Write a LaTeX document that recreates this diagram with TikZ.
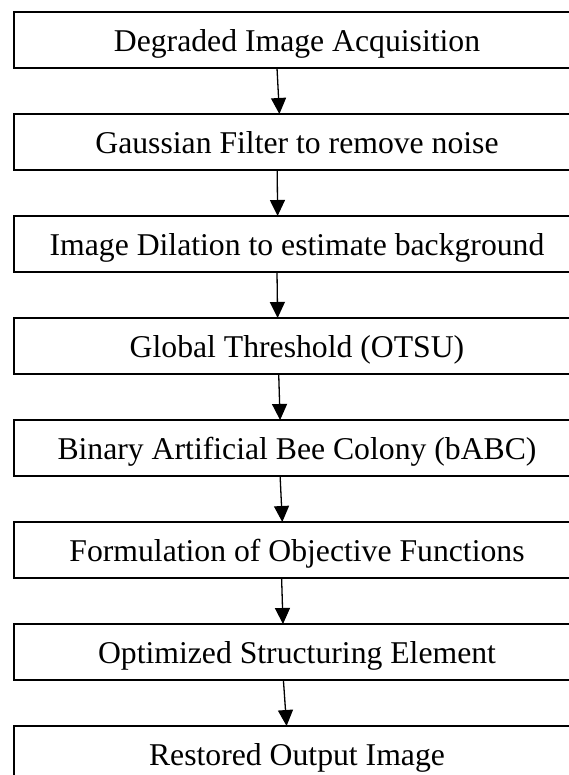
\documentclass[tikz,border=0pt]{standalone}
\usepackage{fontspec}
\setmainfont{Liberation Serif}
\usetikzlibrary{arrows.meta}
\begin{document}
\begin{tikzpicture}[x=1pt,y=-1pt,
  stepbox/.style={draw, line width=2pt, rectangle, minimum width=566pt,
    minimum height=56pt, inner sep=0pt, outer sep=0pt, anchor=north west},
  steptext/.style={font=\fontsize{31.7}{36}\selectfont, anchor=base, inner sep=0pt},
  flow/.style={line width=1.3pt, -{Triangle[width=15pt,length=16pt]}}]
\useasboundingbox (0,0) rectangle (569,775);
\clip (0,0) rectangle (569,775);

% process boxes
\node[stepbox] (b1) at (14,12)  {};
\node[stepbox] (b2) at (14,114) {};
\node[stepbox] (b3) at (14,216) {};
\node[stepbox] (b4) at (14,318) {};
\node[stepbox] (b5) at (14,420) {};
\node[stepbox] (b6) at (14,522) {};
\node[stepbox] (b7) at (14,624) {};
\node[stepbox] (b8) at (14,726) {};

% box labels
\node[steptext] (t1) at (297,51.6)  {Degraded Image Acquisition};
\node[steptext] (t2) at (297,153.6) {Gaussian Filter to remove noise};
\node[steptext] (t3) at (297,255.6) {Image Dilation to estimate background};
\node[steptext] (t4) at (297,357.6) {Global Threshold (OTSU)};
\node[steptext] (t5) at (297,459.6) {Binary Artificial Bee Colony (bABC)};
\node[steptext] (t6) at (297,561.6) {Formulation of Objective Functions};
\node[steptext] (t7) at (297,663.6) {Optimized Structuring Element};
\node[steptext] (t8) at (297,765.6) {Restored Output Image};

% flow arrows
\draw[flow] ([xshift=263pt]b1.south west) -- ([xshift=265.4pt]b2.north west);
\draw[flow] ([xshift=263.2pt]b2.south west) -- ([xshift=263.6pt]b3.north west);
\draw[flow] ([xshift=263pt]b3.south west) -- ([xshift=263.6pt]b4.north west);
\draw[flow] ([xshift=264.7pt]b4.south west) -- ([xshift=266.1pt]b5.north west);
\draw[flow] ([xshift=266.1pt]b5.south west) -- ([xshift=268.3pt]b6.north west);
\draw[flow] ([xshift=267.6pt]b6.south west) -- ([xshift=269pt]b7.north west);
\draw[flow] ([xshift=269.4pt]b7.south west) -- ([xshift=272.6pt]b8.north west);
\end{tikzpicture}
\end{document}
